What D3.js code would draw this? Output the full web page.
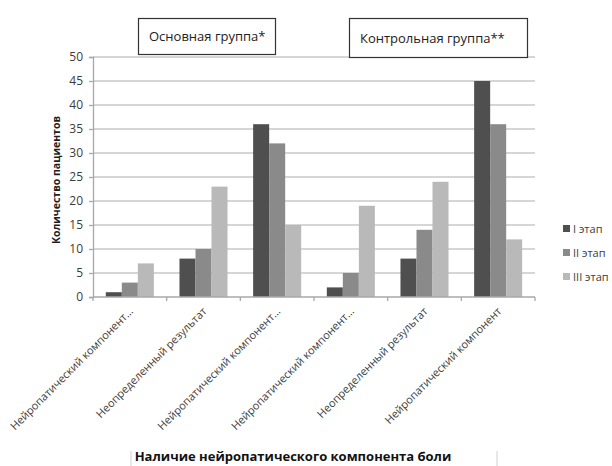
<!DOCTYPE html>
<html>
<head>
<meta charset="utf-8">
<script src="https://cdn.jsdelivr.net/npm/d3@7/dist/d3.min.js"></script>
<style>
  html, body { margin: 0; padding: 0; background: #fff; }
  svg { display: block; font-family: "Open Sans", "DejaVu Sans", sans-serif; }
</style>
</head>
<body>
<svg id="chart" width="612" height="466"></svg>
<script>
// Categories along the x axis (three per group)
const categories = [
  "Нейропатический компонент…",
  "Неопределенный результат",
  "Нейропатический компонент…",
  "Нейропатический компонент…",
  "Неопределенный результат",
  "Нейропатический компонент"
];
// Group headers over the two halves of the chart
const groupTitles = ["Основная группа*", "Контрольная группа**"];
// Stages (series)
const stages = ["I этап", "II этап", "III этап"];
// Number of patients per category, one array per stage
const stage1 = [1, 8, 36, 2, 8, 45];
const stage2 = [3, 10, 32, 5, 14, 36];
const stage3 = [7, 23, 15, 19, 24, 12];
const yTicks = [0, 5, 10, 15, 20, 25, 30, 35, 40, 45, 50];
const yTitle = "Количество пациентов";
const xTitle = "Наличие нейропатического компонента боли";

const seriesValues = [stage1, stage2, stage3];
const colors = ["#4f4f4f", "#8a8a8a", "#b9b9b9"];

const svg = d3.select("#chart");

const plot = { left: 93, right: 535, top: 57, bottom: 297 };

const x0 = d3.scaleBand()
  .domain(d3.range(categories.length))
  .range([plot.left, plot.right])
  .padding(0);

const x1 = d3.scaleBand()
  .domain(d3.range(stages.length))
  .range([0, x0.bandwidth()])
  .paddingInner(0)
  .paddingOuter(0.8);

const y = d3.scaleLinear().domain([0, 50]).range([plot.bottom, plot.top]);

// Horizontal gridlines
svg.append("g")
  .selectAll("line")
  .data(yTicks.filter(d => d > 0))
  .join("line")
  .attr("x1", plot.left)
  .attr("x2", plot.right)
  .attr("y1", d => y(d))
  .attr("y2", d => y(d))
  .attr("stroke", "#c9c9c9")
  .attr("stroke-width", 1.3);

// Y axis
const yAxis = svg.append("g")
  .attr("transform", `translate(${plot.left},0)`)
  .call(d3.axisLeft(y).tickValues(yTicks).tickSize(4).tickPadding(6).tickFormat(d3.format("d")));
yAxis.select(".domain").attr("stroke", "#a8a8a8").attr("stroke-width", 1.3);
yAxis.selectAll(".tick line").attr("stroke", "#a8a8a8").attr("stroke-width", 1.3);
yAxis.selectAll(".tick text")
  .attr("fill", "#3c3c3c")
  .style("font-size", "12px")
  .style("font-family", "'Open Sans', sans-serif");

// Bars
const groups = svg.append("g")
  .selectAll("g")
  .data(categories.map((c, i) => i))
  .join("g")
  .attr("transform", i => `translate(${x0(i)},0)`);

groups.selectAll("rect")
  .data(i => seriesValues.map((vals, s) => ({ s, v: vals[i] })))
  .join("rect")
  .attr("x", d => x1(d.s))
  .attr("width", x1.bandwidth())
  .attr("y", d => y(d.v))
  .attr("height", d => y(0) - y(d.v))
  .attr("fill", d => colors[d.s]);

// X axis with ticks at category boundaries
const xAxisG = svg.append("g").attr("transform", `translate(0,${plot.bottom})`);
xAxisG.append("line")
  .attr("x1", plot.left).attr("x2", plot.right)
  .attr("stroke", "#a8a8a8").attr("stroke-width", 1.3);
const boundaries = d3.range(categories.length + 1).map(i => plot.left + i * x0.step());
xAxisG.selectAll("line.tk")
  .data(boundaries)
  .join("line")
  .attr("class", "tk")
  .attr("x1", d => d).attr("x2", d => d)
  .attr("y1", 0).attr("y2", 4)
  .attr("stroke", "#a8a8a8").attr("stroke-width", 1.3);

// Rotated category labels
svg.append("g")
  .selectAll("text")
  .data(categories)
  .join("text")
  .attr("transform", (d, i) => `translate(${x0(i) + x0.bandwidth() / 2 + 4},${plot.bottom + 15}) rotate(-45)`)
  .attr("text-anchor", "end")
  .attr("fill", "#3c3c3c")
  .style("font-size", "11px")
  .text(d => d);

// Y axis title
svg.append("text")
  .attr("transform", `translate(60,${(plot.top + plot.bottom) / 2 + 3}) rotate(-90)`)
  .attr("text-anchor", "middle")
  .attr("fill", "#1e1e1e")
  .style("font-size", "10.5px")
  .style("font-weight", "bold")
  .text(yTitle);

// X axis title with faint side rules
svg.append("text")
  .attr("x", 293)
  .attr("y", 461)
  .attr("text-anchor", "middle")
  .attr("fill", "#111")
  .style("font-size", "13px")
  .style("font-weight", "bold")
  .text(xTitle);
[131, 497].forEach(xx => {
  svg.append("line")
    .attr("x1", xx).attr("x2", xx)
    .attr("y1", 451).attr("y2", 466)
    .attr("stroke", "#d0d0d0").attr("stroke-width", 1);
});

// Group header boxes
const boxes = [
  { x: 138, y: 18, w: 137, h: 36 },
  { x: 349, y: 18, w: 178, h: 39 }
];
boxes.forEach((b, i) => {
  svg.append("rect")
    .attr("x", b.x + 0.5).attr("y", b.y + 0.5)
    .attr("width", b.w).attr("height", b.h)
    .attr("fill", "#fff")
    .attr("stroke", "#333").attr("stroke-width", 1.2);
  svg.append("text")
    .attr("x", b.x + 11)
    .attr("y", b.y + b.h / 2 + 5)
    .attr("fill", "#222")
    .style("font-size", "13px")
    .text(groupTitles[i]);
});

// Legend
const legend = svg.append("g")
  .selectAll("g")
  .data(stages)
  .join("g")
  .attr("transform", (d, i) => `translate(563,${229 + i * 24})`);
legend.append("rect")
  .attr("x", 0).attr("y", -4)
  .attr("width", 7).attr("height", 7)
  .attr("fill", (d, i) => colors[i]);
legend.append("text")
  .attr("x", 10).attr("y", 4)
  .attr("fill", "#3c3c3c")
  .style("font-size", "11px")
  .text(d => d);
</script>
</body>
</html>
